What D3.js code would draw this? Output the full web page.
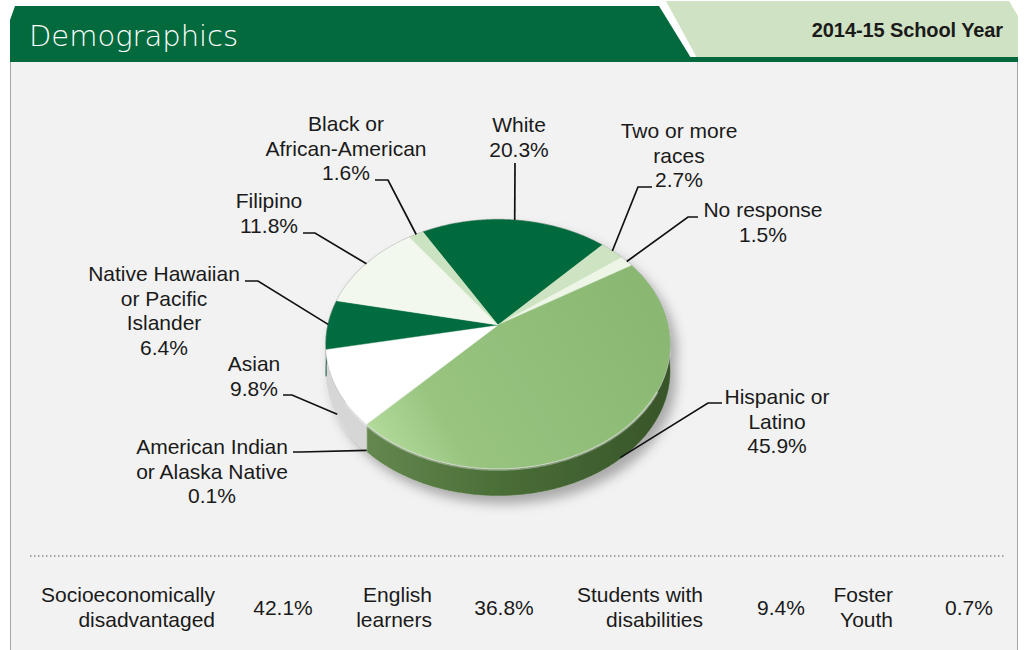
<!DOCTYPE html>
<html>
<head>
<meta charset="utf-8">
<script src="https://cdn.jsdelivr.net/npm/d3@7"></script>
<style>
  body { margin: 0; background: #fff; }
  text { font-family: "Liberation Sans", Arial, Helvetica, sans-serif; fill: #1a1a1a; }
</style>
</head>
<body>
<script>
//chart data
var categories = ["White", "Two or more races", "No response", "Hispanic or Latino",
    "American Indian or Alaska Native", "Asian", "Native Hawaiian or Pacific Islander",
    "Filipino", "Black or African-American"];
var shares = [20.3, 2.7, 1.5, 45.9, 0.1, 9.8, 6.4, 11.8, 1.6];
var labelLines = [["White"], ["Two or more", "races"], ["No response"], ["Hispanic or", "Latino"],
    ["American Indian", "or Alaska Native"], ["Asian"], ["Native Hawaiian", "or Pacific", "Islander"],
    ["Filipino"], ["Black or", "African-American"]];

var statNames = [["Socioeconomically", "disadvantaged"], ["English", "learners"],
    ["Students with", "disabilities"], ["Foster", "Youth"]];
var statValues = [42.1, 36.8, 9.4, 0.7];

var title = "Demographics";
var yearLabel = "2014-15 School Year";

(function(){
    var width = 1027, height = 650;

    //slice colours (top face, side)
    var topColors = ["#036a3d", "#cde3c2", "#edf5e7", "url(#hispTop)", "#bcd6ab",
        "#ffffff", "#066c3f", "#f3f8ee", "#cce3c1"];
    var sideColors = ["#024d2b", "#a9c49c", "#c9d3c3", "url(#hispSide)", "#9db58e",
        "#d6d6d6", "#004a28", "#d0d5cc", "#a9c49c"];

    //label layout
    var labelPos = [
        {x: 519, y: 125, p0: [515, 163], p1: [515, 163]},
        {x: 679, y: 131, p0: [652, 187], p1: [638, 187]},
        {x: 763, y: 210, p0: [698, 217], p1: [688, 217]},
        {x: 777, y: 397, p0: [722, 403], p1: [708, 403]},
        {x: 212, y: 447, p0: [293, 452], p1: [300, 452]},
        {x: 254, y: 364, p0: [283, 395], p1: [292, 395]},
        {x: 164, y: 274, p0: [245, 281], p1: [258, 281]},
        {x: 269, y: 201, p0: [303, 233], p1: [315, 233]},
        {x: 346, y: 124, p0: [375, 180], p1: [388, 180]}
    ];
    var lineH = 24.5;

    var svg = d3.select("body").append("svg")
        .attr("width", width)
        .attr("height", height);

    var defs = svg.append("defs");

    var g1 = defs.append("linearGradient").attr("id", "hispTop")
        .attr("gradientUnits", "userSpaceOnUse")
        .attr("x1", 370).attr("y1", 450).attr("x2", 640).attr("y2", 290);
    g1.append("stop").attr("offset", "0").attr("stop-color", "#b6de9e");
    g1.append("stop").attr("offset", "0.25").attr("stop-color", "#98c480");
    g1.append("stop").attr("offset", "1").attr("stop-color", "#8ab872");

    var g2 = defs.append("linearGradient").attr("id", "hispSide")
        .attr("gradientUnits", "userSpaceOnUse")
        .attr("x1", 360).attr("y1", 0).attr("x2", 670).attr("y2", 0);
    g2.append("stop").attr("offset", "0").attr("stop-color", "#65894f");
    g2.append("stop").attr("offset", "0.45").attr("stop-color", "#4a6e37");
    g2.append("stop").attr("offset", "1").attr("stop-color", "#38552a");

    var shadow = defs.append("filter").attr("id", "shadow")
        .attr("x", "-20%").attr("y", "-20%").attr("width", "140%").attr("height", "140%");
    shadow.append("feDropShadow")
        .attr("dx", 6).attr("dy", 8).attr("stdDeviation", 6)
        .attr("flood-color", "#000").attr("flood-opacity", 0.3);

    //header
    svg.append("rect")
        .attr("x", 10).attr("y", 57).attr("width", 1008).attr("height", 600)
        .attr("fill", "#f2f2f2");
    svg.append("line").attr("x1", 10.5).attr("x2", 10.5).attr("y1", 57).attr("y2", 650)
        .attr("stroke", "#a5a5a5");
    svg.append("line").attr("x1", 1017.5).attr("x2", 1017.5).attr("y1", 57).attr("y2", 650)
        .attr("stroke", "#a5a5a5");
    svg.append("path")
        .attr("d", "M666,1 L1009,1 L1018,16 L1018,58 L697,58 Z")
        .attr("fill", "#cfe2c4");
    svg.append("path")
        .attr("d", "M15,6 L659,6 L691,58 L10,58 L10,20 Z")
        .attr("fill", "#036a3d");
    svg.append("rect")
        .attr("x", 10).attr("y", 57).attr("width", 1008).attr("height", 5)
        .attr("fill", "#036a3d");
    svg.append("text")
        .attr("x", 29).attr("y", 36)
        .attr("dy", "0.35em")
        .style("font-family", "'DejaVu Sans', sans-serif")
        .style("font-weight", 200)
        .style("font-size", "29px")
        .style("fill", "#ffffff")
        .text(title);
    svg.append("text")
        .attr("x", 1003).attr("y", 30)
        .attr("dy", "0.35em")
        .attr("text-anchor", "end")
        .style("font-weight", "bold")
        .style("font-size", "20px")
        .style("letter-spacing", "-0.1px")
        .text(yearLabel);

    //3d pie projection
    var cx = 498, cy = 325, sx = 170, sy = 121.6, k = 0.153, depth = 27;
    var rad = Math.PI / 180;

    function proj(a, drop){
        var u = Math.sin(a), v = -Math.cos(a), w = 1 - k * v;
        return [cx + sx * u / w, cy + sy * v / w + (drop || 0)];
    }
    function rim(a0, a1, drop){
        var n = Math.max(2, Math.ceil((a1 - a0) / (0.5 * rad)));
        return d3.range(n + 1).map(function(i){
            return proj(a0 + (a1 - a0) * i / n, drop);
        });
    }

    var pie = d3.pie()
        .sort(null)
        .value(function(d){ return d; })
        .startAngle(-30 * rad)
        .endAngle(330 * rad);
    var arcs = pie(shares);

    var pieG = svg.append("g").attr("filter", "url(#shadow)");

    //sides (front half only)
    var frontA = 70 * rad, frontB = 290 * rad;
    pieG.selectAll(".side")
        .data(arcs.filter(function(d){ return d.endAngle > frontA && d.startAngle < frontB; }))
        .enter()
        .append("path")
        .attr("class", "side")
        .attr("d", function(d){
            var a0 = Math.max(d.startAngle, frontA), a1 = Math.min(d.endAngle, frontB);
            var top = rim(a0, a1, 0), bot = rim(a0, a1, depth).reverse();
            return "M" + top.concat(bot).join("L") + "Z";
        })
        .attr("fill", function(d){ return sideColors[d.index]; })
        .attr("stroke", function(d){ return sideColors[d.index]; })
        .attr("stroke-width", 0.5);

    //rim outline
    pieG.append("path")
        .attr("d", "M" + rim(0, 2 * Math.PI, 0).join("L") + "Z")
        .attr("fill", "#ffffff")
        .attr("stroke", "#bdbdbd")
        .attr("stroke-width", 1.5);

    //top faces
    pieG.selectAll(".slice")
        .data(arcs)
        .enter()
        .append("path")
        .attr("class", "slice")
        .attr("d", function(d){
            return "M" + [cx, cy] + "L" + rim(d.startAngle, d.endAngle, 0).join("L") + "Z";
        })
        .attr("fill", function(d){ return topColors[d.index]; })
        .attr("stroke", function(d){ return topColors[d.index]; })
        .attr("stroke-width", 0.4);

    //soft highlight on the front edge
    svg.append("path")
        .attr("d", "M" + rim(120 * rad, 235 * rad, 1).join("L"))
        .attr("fill", "none")
        .attr("stroke", "rgba(255,255,255,0.35)")
        .attr("stroke-width", 2.5);

    //leader lines
    svg.selectAll(".leader")
        .data(arcs)
        .enter()
        .append("path")
        .attr("class", "leader")
        .attr("d", function(d){
            var mid = (d.startAngle + d.endAngle) / 2;
            var end = proj(mid, 0);
            if (-Math.cos(mid) > 0.3) end[1] += depth - 1;
            var p = labelPos[d.index];
            return "M" + p.p0 + "L" + p.p1 + "L" + end;
        })
        .attr("fill", "none")
        .attr("stroke", "#111")
        .attr("stroke-width", 1.7);

    //labels
    var fmt = d3.format(".1f");
    var labels = svg.selectAll(".label")
        .data(arcs)
        .enter()
        .append("text")
        .attr("class", "label")
        .attr("text-anchor", "middle")
        .style("font-size", "21px");
    labels.each(function(d){
        var p = labelPos[d.index];
        var lines = labelLines[d.index].concat([fmt(shares[d.index]) + "%"]);
        d3.select(this).selectAll("tspan")
            .data(lines)
            .enter()
            .append("tspan")
            .attr("x", p.x)
            .attr("y", function(t, i){ return p.y + i * lineH; })
            .attr("dy", "0.35em")
            .text(function(t){ return t; });
    });

    //dotted separator
    svg.append("line")
        .attr("x1", 30).attr("x2", 1005)
        .attr("y1", 556).attr("y2", 556)
        .attr("stroke", "#8c8c8c")
        .attr("stroke-width", 1.5)
        .attr("stroke-dasharray", "1.5,2.5");

    //bottom statistics
    var nameRight = [215, 432, 703, 893];
    var valueMid = [283, 504, 781, 969];
    var statY = 595, statValY = 608;

    statNames.forEach(function(lines, i){
        var t = svg.append("text")
            .attr("text-anchor", "end")
            .style("font-size", "21px");
        t.selectAll("tspan")
            .data(lines)
            .enter()
            .append("tspan")
            .attr("x", nameRight[i])
            .attr("y", function(s, j){ return statY + j * 25; })
            .attr("dy", "0.35em")
            .text(function(s){ return s; });
        svg.append("text")
            .attr("x", valueMid[i])
            .attr("y", statValY)
            .attr("dy", "0.35em")
            .attr("text-anchor", "middle")
            .style("font-size", "21px")
            .text(fmt(statValues[i]) + "%");
    });
})();
</script>
</body>
</html>
